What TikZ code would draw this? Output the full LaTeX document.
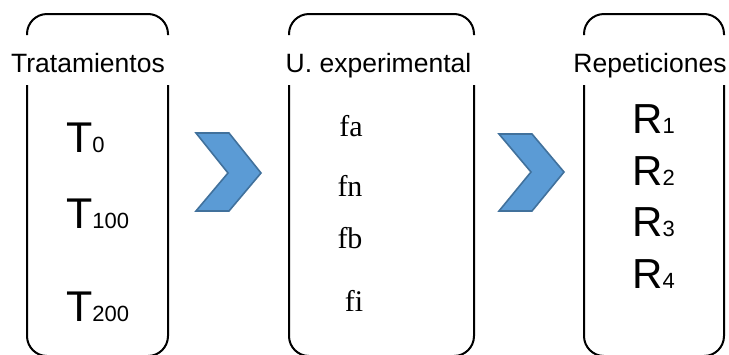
\documentclass[tikz,border=0pt]{standalone}
\usepackage{fontspec}
\setmainfont{Liberation Sans}
\newfontfamily\tnr{Liberation Serif}
\begin{document}
\begin{tikzpicture}[x=1pt,y=-1pt,
  boxline/.style={draw=black,line width=2pt,rounded corners=20pt},
  chev/.style={fill=chevfill,draw=chevdraw,line width=1.6pt,line join=miter},
  title/.style={anchor=base,inner sep=0pt,font=\fontsize{26.5}{26.5}\selectfont},
  bigT/.style={anchor=base west,inner sep=0pt},
  ftxt/.style={anchor=base,inner sep=0pt,font=\tnr\fontsize{30}{30}\selectfont}]
\definecolor{chevfill}{HTML}{5B9BD5}
\definecolor{chevdraw}{HTML}{41719C}
\useasboundingbox (0,0) rectangle (729,354);
% box 1
\draw[boxline] (27,35) -- (27,14) -- (168,14) -- (168,35);
\draw[boxline] (27,85) -- (27,356) -- (168,356) -- (168,85);
% box 2
\draw[boxline] (289,35) -- (289,14) -- (474,14) -- (474,35);
\draw[boxline] (289,85) -- (289,356) -- (474,356) -- (474,85);
% box 3
\draw[boxline] (584,35) -- (584,14) -- (724,14) -- (724,35);
\draw[boxline] (584,85) -- (584,356) -- (724,356) -- (724,85);
% titles
\node[title] (t1) at (88,72) {Tratamientos};
\node[title] (t2) at (378.5,72) {U. experimental};
\node[title] (t3) at (650,72) {Repeticiones};
% box 1 content
\node[bigT] (T0) at (66,152) {\fontsize{43}{43}\selectfont T\fontsize{22}{22}\selectfont 0};
\node[bigT] (T1) at (66,228) {\fontsize{43}{43}\selectfont T\fontsize{22}{22}\selectfont 100};
\node[bigT] (T2) at (66,321) {\fontsize{43}{43}\selectfont T\fontsize{22}{22}\selectfont 200};
% box 2 content
\node[ftxt] (fa) at (351,136) {fa};
\node[ftxt] (fn) at (350,196) {fn};
\node[ftxt] (fb) at (350,248) {fb};
\node[ftxt] (fi) at (354,311) {fi};
% box 3 content
\node[bigT] (R1) at (632,133) {\fontsize{42}{42}\selectfont R\fontsize{22}{22}\selectfont 1};
\node[bigT] (R2) at (632,185) {\fontsize{42}{42}\selectfont R\fontsize{22}{22}\selectfont 2};
\node[bigT] (R3) at (632,236) {\fontsize{42}{42}\selectfont R\fontsize{22}{22}\selectfont 3};
\node[bigT] (R4) at (632,288) {\fontsize{42}{42}\selectfont R\fontsize{22}{22}\selectfont 4};
% chevrons
\draw[chev] (196,133) -- (229,133) -- (261,173) -- (229,211) -- (196,211) -- (228,173) -- cycle;
\draw[chev] (499,134) -- (532,134) -- (564,172) -- (532,211) -- (499,211) -- (531,172) -- cycle;
\end{tikzpicture}
\end{document}
